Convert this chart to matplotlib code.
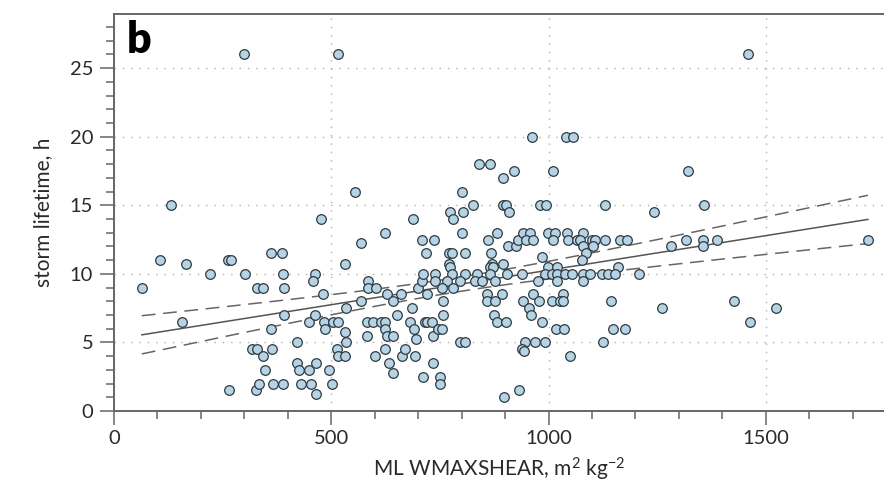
import numpy as np
import matplotlib
matplotlib.use("Agg")
import matplotlib.pyplot as plt
from matplotlib.ticker import MultipleLocator

# ML WMAXSHEAR (m^2 kg^-2) and storm lifetime (h) for each storm
wmaxshear = [
    64, 106, 131, 156, 166, 221, 262, 269, 265, 301, 299, 329, 343, 318, 329, 364,
    343, 347, 327, 334, 366, 389, 361, 387, 389, 391, 391, 361, 421, 421, 426, 430,
    453, 465, 449, 465, 495, 502, 449, 463, 483, 504, 515, 486, 532, 513, 515, 532,
    534, 463, 458, 481, 476, 515, 555, 568, 532, 534, 568, 585, 585, 603, 628, 642,
    660, 651, 686, 700, 709, 720, 582, 596, 614, 624, 624, 582, 628, 642, 681, 690,
    695, 716, 600, 624, 633, 642, 663, 670, 693, 711, 624, 688, 709, 718, 734, 750,
    750, 734, 720, 732, 745, 755, 737, 773, 780, 803, 801, 826, 801, 840, 865, 895,
    920, 1010, 962, 1040, 1056, 895, 902, 909, 980, 994, 1130, 881, 861, 906, 925, 930,
    941, 957, 948, 964, 999, 1015, 1010, 1042, 1079, 1045, 1065, 1072, 1100, 1107, 1130, 1164,
    1181, 1079, 1102, 770, 778, 808, 868, 1086, 985, 770, 773, 870, 865, 872, 895, 1077,
    999, 1019, 1160, 711, 739, 778, 808, 835, 865, 904, 939, 992, 1008, 1019, 1038, 1054,
    1079, 1095, 1123, 1137, 1153, 1208, 739, 766, 796, 831, 847, 877, 976, 1019, 1079, 755,
    780, 858, 893, 964, 1033, 757, 858, 877, 941, 978, 1008, 1026, 1033, 1144, 955, 757,
    874, 960, 881, 902, 985, 1017, 1036, 1148, 1176, 796, 808, 946, 969, 992, 1125, 939,
    944, 1049, 897, 932, 1243, 1358, 1321, 1459, 1316, 1355, 1388, 1282, 1355, 1735, 1261, 1427,
    1464, 1523,
]
lifetime = [
    9, 11, 15, 6.5, 10.75, 10, 11, 11, 1.5, 10, 26, 9, 9, 4.5, 4.5, 4.5,
    4, 3, 1.5, 2, 2, 2, 11.5, 11.5, 10, 9, 7, 6, 5, 3.5, 3, 2,
    2, 1.25, 3, 3.5, 3, 2, 6.5, 7, 6.5, 6.5, 6.5, 6, 5.75, 4.5, 4, 4,
    5, 10, 9.5, 8.5, 14, 26, 16, 12.25, 10.75, 7.5, 8, 9.5, 9, 9, 8.5, 8,
    8.5, 7, 7.5, 9, 9.5, 8.5, 6.5, 6.5, 6.5, 6.5, 6, 5.5, 5.5, 5.5, 6.5, 6,
    5.25, 6.5, 4, 4.5, 3.5, 2.75, 4, 4.5, 4, 2.5, 13, 14, 12.5, 11.5, 3.5, 2.5,
    2, 5.5, 6.5, 6.5, 6, 6, 12.5, 14.5, 14, 14.5, 16, 15, 13, 18, 18, 17,
    17.5, 17.5, 20, 20, 20, 15, 15, 14.5, 15, 15, 15, 13, 12.5, 12, 12, 12.5,
    13, 13, 12.5, 12.5, 13, 13, 12.5, 13, 13, 12.5, 12.5, 12.5, 12.5, 12.5, 12.5, 12.5,
    12.5, 12, 12, 11.5, 11.5, 11.5, 11.5, 11.5, 11.25, 10.75, 10.5, 10.75, 10.5, 10.5, 10.75, 11,
    10.5, 10.5, 10.5, 10, 10, 10, 10, 10, 10, 10, 10, 10, 10, 10, 10, 10,
    10, 10, 10, 10, 10, 10, 9.5, 9.5, 9.5, 9.5, 9.5, 9.5, 9.5, 9.5, 9.5, 9,
    9, 8.5, 8.5, 8.5, 8.5, 8, 8, 8, 8, 8, 8, 8, 8, 8, 7.5, 7,
    7, 7, 6.5, 6.5, 6.5, 6, 6, 6, 6, 5, 5, 5, 5, 5, 5, 4.5,
    4.4, 4, 1, 1.5, 14.5, 15, 17.5, 26, 12.5, 12.5, 12.5, 12, 12, 12.5, 7.5, 8,
    6.5, 7.5,
]

x = np.asarray(wmaxshear, dtype=float)
y = np.asarray(lifetime, dtype=float)

# Ordinary least squares fit with 95% confidence band for the mean
n = len(x)
slope, intercept = np.polyfit(x, y, 1)
resid = y - (intercept + slope * x)
s = np.sqrt(np.sum(resid ** 2) / (n - 2))
xm = x.mean()
sxx = np.sum((x - xm) ** 2)
t95 = 1.97
xf = np.linspace(x.min(), x.max(), 200)
yf = intercept + slope * xf
half = t95 * s * np.sqrt(1.0 / n + (xf - xm) ** 2 / sxx)

plt.rcParams["font.family"] = ["Lato", "DejaVu Sans"]
plt.rcParams["mathtext.fontset"] = "custom"
plt.rcParams["mathtext.rm"] = "Lato"
plt.rcParams["mathtext.it"] = "Lato:italic"

fig = plt.figure(figsize=(8.84, 4.91), dpi=100)
ax = fig.add_axes([0.129, 0.163, 0.871, 0.8085])

spine_c = "#666666"
ax.grid(True, which="major", linestyle=(0, (1, 5)), color="#b0b0b0", linewidth=1.0)
ax.set_axisbelow(True)

ax.plot(xf, yf, color="#555555", linewidth=1.1, zorder=3)
ax.plot(xf, yf + half, color="#666666", linewidth=1.1, dashes=(9, 5), zorder=3)
ax.plot(xf, yf - half, color="#666666", linewidth=1.1, dashes=(9, 5), zorder=3)

ax.scatter(x, y, s=48, facecolor="#b5d3e5", edgecolor="#2f3a40", linewidth=0.9, zorder=4)

ax.set_xlim(0, 1772)
ax.set_ylim(0, 28.95)
ax.xaxis.set_major_locator(MultipleLocator(500))
ax.xaxis.set_minor_locator(MultipleLocator(100))
ax.yaxis.set_major_locator(MultipleLocator(5))
ax.yaxis.set_minor_locator(MultipleLocator(1))

ax.tick_params(which="major", direction="out", length=10, width=1.1, color=spine_c,
               labelsize=14.5, labelcolor="#2a2a2a", pad=4)
ax.tick_params(which="minor", direction="out", length=5.5, width=1.1, color=spine_c)
ax.tick_params(axis="y", which="major", pad=5)

for side in ("left", "bottom", "top"):
    ax.spines[side].set_color(spine_c)
    ax.spines[side].set_linewidth(1.4)
ax.spines["right"].set_visible(False)

ax.set_xlabel("ML WMAXSHEAR, m$^2$ kg$^{-2}$", fontsize=15, color="#2a2a2a", labelpad=6)
ax.set_ylabel("storm lifetime, h", fontsize=15, color="#2a2a2a", labelpad=12)

ax.text(0.017, 0.985, "b", transform=ax.transAxes, fontsize=31, fontweight="heavy",
        va="top", ha="left", color="black", family=["Lato", "DejaVu Sans"])

fig.savefig("out.png", dpi=100)
